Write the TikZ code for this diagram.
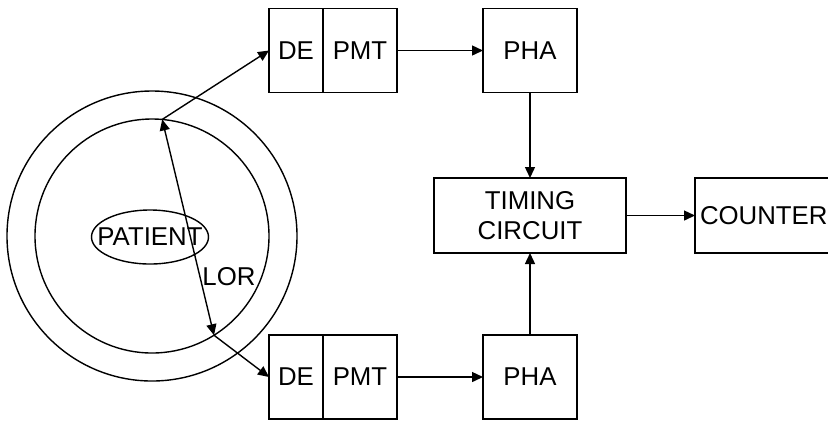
\documentclass[tikz,border=0pt]{standalone}
\usepackage{fontspec}
\setmainfont{Liberation Sans}
\usepackage{tikz}
\usetikzlibrary{arrows.meta, positioning, shapes.geometric}

\begin{document}
\begin{tikzpicture}[
    x=0.5pt, y=-0.5pt,
    every node/.style={font=\fontsize{12.9}{15}\selectfont},
    box/.style={draw, line width=0.7pt, inner sep=0pt, outer sep=0pt,
      minimum height=42pt, align=center},
    ring/.style={draw, circle, line width=0.7pt, inner sep=0pt, outer sep=0pt},
    arrow/.style={-{Triangle[length=5.5pt, width=5pt]}, line width=0.7pt},
    lorarrow/.style={{Triangle[length=5.5pt, width=5pt]}-{Triangle[length=5.5pt, width=5pt]},
      line width=0.7pt},
]
\useasboundingbox (0,0) rectangle (828,420);
% Nodes
\node[ring, minimum size=145pt] (outerring) at (152,236) {};
\node[ring, minimum size=117pt] (innerring) at (152,236) {};
\node[draw, ellipse, line width=0.7pt, inner sep=0pt,
      minimum width=58.5pt, minimum height=27pt] (patient) at (150,237)
    {\makebox[0pt]{PATIENT}};
\node (lorlabel) at (229,277) {LOR};
\coordinate (lortop) at (innerring.85);
\coordinate (lorbot) at (innerring.-58);

\node[box, minimum width=27pt] (detop) at (296,50.5) {DE};
\node[box, minimum width=37pt, right=0pt of detop] (pmttop) {PMT};
\node[box, minimum width=47pt] (phatop) at (530,50.5) {PHA};

\node[box, minimum width=27pt] (debot) at (296,377) {DE};
\node[box, minimum width=37pt, right=0pt of debot] (pmtbot) {PMT};
\node[box, minimum width=47pt] (phabot) at (530,377) {PHA};

\node[box, minimum width=96pt, minimum height=37.5pt] (timing) at (530,215.5)
    {TIMING\\CIRCUIT};
\node[box, anchor=west, minimum height=37.5pt, text width=70pt, align=left,
      inner xsep=2.5pt] (counter) at (695,215.5) {COUNTER};
% Arrows
\draw[lorarrow] (lortop) -- (lorbot);
\draw[arrow] (lortop) -- (detop.west);
\draw[arrow] (lorbot) -- (debot.west);
\draw[arrow] (pmttop.east) -- (phatop.west);
\draw[arrow] (pmtbot.east) -- (phabot.west);
\draw[arrow] (phatop.south) -- (timing.north);
\draw[arrow] (phabot.north) -- (timing.south);
\draw[arrow] (timing.east) -- (counter.west);
\end{tikzpicture}
\end{document}
